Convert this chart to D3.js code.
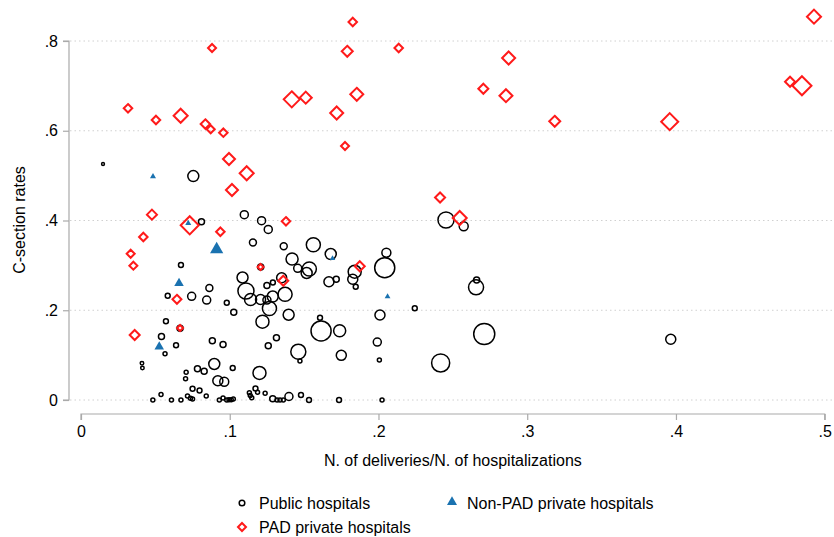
<!DOCTYPE html>
<html>
<head>
<meta charset="utf-8">
<script src="https://cdn.jsdelivr.net/npm/d3@7"></script>
<style>
  body { margin: 0; background: #fff; }
  svg { display: block; font-family: "Liberation Sans", Arial, Helvetica, sans-serif; }
</style>
</head>
<body>
<div class="chart"></div>
<script>
// public hospitals: x = deliveries/hospitalizations, y = c-section rate, w = weight
const publicX = [0.0148,0.0755,0.081,0.1098,0.1214,0.1259,0.1156,0.0672,0.0863,0.0744,0.0583,0.0845,0.098,0.1027,
  0.1086,0.1109,0.114,0.1207,0.125,0.1289,0.1267,0.122,0.1208,0.125,0.129,0.1314,0.1259,0.0571,0.0541,0.0666,
  0.0639,0.0565,0.0883,0.0955,0.041,0.0413,0.0896,0.102,0.0783,0.0828,0.0707,0.0703,0.092,0.0963,0.075,0.0797,
  0.0842,0.0716,0.0736,0.075,0.0538,0.0483,0.0608,0.0672,0.093,0.0955,0.0995,0.101,0.1024,0.1132,0.1138,0.1148,
  0.1173,0.1187,0.1238,0.1289,0.1318,0.12,0.1363,0.1562,0.1679,0.1419,0.1457,0.1535,0.1517,0.2053,0.2042,0.1349,
  0.1372,0.1396,0.184,0.1827,0.1716,0.1667,0.1847,0.201,0.1607,0.1614,0.1739,0.1461,0.175,0.1992,0.2006,0.1472,
  0.1479,0.1398,0.1338,0.136,0.1533,0.1735,0.2024,0.2454,0.2573,0.266,0.2656,0.2244,0.2711,0.2418,0.3965,0.098];
const publicY = [0.526,0.499,0.397,0.413,0.3996,0.38,0.351,0.301,0.2496,0.231,0.2324,0.2228,0.2168,0.1954,
  0.273,0.2429,0.224,0.224,0.2228,0.2306,0.204,0.1745,0.2964,0.255,0.262,0.1388,0.1208,0.1754,0.1415,0.1598,
  0.1221,0.1032,0.1321,0.1237,0.0818,0.0713,0.0802,0.0713,0.0695,0.0642,0.062,0.0475,0.0428,0.0408,0.025,0.021,
  0.0089,0.0089,0.0038,0.0022,0.0123,0,0,0,0,0.0045,0.0007,0.0007,0.0022,0.0163,0.01,0.0051,
  0.0256,0.0172,0.0149,0.0029,0,0.0602,0.3425,0.346,0.3253,0.3142,0.2935,0.2919,0.283,0.3282,0.2948,0.2725,
  0.2355,0.19,0.2859,0.269,0.269,0.2636,0.2525,0.1894,0.1834,0.1538,0.1544,0.1076,0.0996,0.1292,0.0891,0.0869,
  0.0111,0.0078,0,0,0,0,0,0.4011,0.3871,0.2674,0.2511,0.2043,0.1471,0.0825,0.1353,0];
const publicW = [2,30,9,16,16,16,12,6,12,16,6,16,6,9,
  30,64,36,25,16,30,49,42,9,9,6,9,9,6,9,9,
  6,4,9,9,3,3,30,6,9,9,4,4,25,20,6,6,
  4,4,4,4,4,4,4,4,4,4,4,4,4,4,4,4,
  6,4,4,9,4,42,12,49,30,36,16,49,30,20,100,25,
  49,30,42,25,9,25,6,25,6,100,36,56,25,16,4,4,
  6,16,4,4,6,6,4,64,20,9,56,6,110,81,25,4];

// non-PAD private hospitals
const nonPadX = [0.0484,0.0721,0.0912,0.0659,0.0526,0.1691,0.2061];
const nonPadY = [0.498,0.3938,0.3354,0.26,0.1188,0.3153,0.2306];
const nonPadW = [12,12,58,30,30,10,11];

// PAD private hospitals
const padX = [0.0316,0.0504,0.067,0.0881,0.0836,0.0872,0.0957,0.0995,0.1114,0.1015,0.0477,0.0731,0.0419,0.0334,
  0.0352,0.0937,0.1207,0.0645,0.0666,0.0361,0.1378,0.136,0.1874,0.2414,0.2546,0.1827,0.179,0.2136,0.2875,0.1417,
  0.1511,0.1854,0.1719,0.2705,0.2857,0.1775,0.4928,0.4767,0.4847,0.3185,0.3958];
const padY = [0.65,0.624,0.6335,0.7844,0.615,0.6032,0.5957,0.537,0.5052,0.468,0.413,0.3893,0.3632,0.326,
  0.2993,0.375,0.2964,0.2244,0.1604,0.1448,0.3982,0.2658,0.298,0.4513,0.4056,0.8423,0.777,0.7844,0.7621,0.67,
  0.6737,0.6812,0.6396,0.6937,0.6781,0.566,0.8542,0.7093,0.7004,0.621,0.6202];
const padW = [18,18,49,16,22,16,18,36,49,36,25,81,18,16,
  16,18,9,20,9,25,18,25,25,25,49,18,30,18,42,64,
  36,42,42,25,42,16,49,25,90,30,72];

const xTicks = [0, 0.1, 0.2, 0.3, 0.4, 0.5];
const yTicks = [0, 0.2, 0.4, 0.6, 0.8];
const legendItems = ['Public hospitals', 'Non-PAD private hospitals', 'PAD private hospitals'];

const width = 834;
const height = 537;
const fs = '16px';
const fmt = d => d === 0 ? '0' : d3.format('.1f')(d).replace(/^0/, '');

const x = d3.scaleLinear().domain([0, 0.5]).range([81, 824.7]);
const y = d3.scaleLinear().domain([0, 0.8]).range([400, 41]);
const r = d3.scaleSqrt().domain([0, 120]).range([0, 11]);

const RED = '#ff1a1a';
const BLUE = '#1a72b0';

const svg = d3.select('.chart').append('svg')
  .attr('width', width)
  .attr('height', height);

// gridlines
svg.append('g').selectAll('line')
  .data(yTicks)
  .enter().append('line')
  .attr('x1', 70).attr('x2', 832)
  .attr('y1', d => y(d)).attr('y2', d => y(d))
  .attr('stroke', '#d0d0d0')
  .attr('stroke-width', 1)
  .attr('stroke-dasharray', '1.5,3');

// y axis
const yAxis = svg.append('g')
  .attr('transform', 'translate(69,0)')
  .call(d3.axisLeft(y).tickValues(yTicks).tickFormat(fmt).tickSize(6).tickPadding(5));
// x axis
const xAxis = svg.append('g')
  .attr('transform', 'translate(0,414)')
  .call(d3.axisBottom(x).tickValues(xTicks).tickFormat(fmt).tickSize(6).tickPadding(6));

[yAxis, xAxis].forEach(a => {
  a.select('.domain').attr('stroke', '#aaaaaa').attr('stroke-width', 1.2);
  a.selectAll('.tick line').attr('stroke', '#aaaaaa').attr('stroke-width', 1.2);
  a.selectAll('.tick text').attr('fill', '#000').style('font-size', fs)
    .style('font-family', '"Liberation Sans", Arial, sans-serif');
});
yAxis.select('.domain').attr('d', 'M-6,' + y(0) + 'H0V' + y(0.8) + 'H-6');
xAxis.select('.domain').attr('d', 'M' + x(0) + ',6V0H' + x(0.5) + 'V6');

// axis titles
svg.append('text')
  .attr('transform', 'translate(25,220) rotate(-90)')
  .attr('text-anchor', 'middle')
  .style('font-size', fs)
  .text('C-section rates');

svg.append('text')
  .attr('x', (x(0) + x(0.5)) / 2)
  .attr('y', 466)
  .attr('text-anchor', 'middle')
  .style('font-size', fs)
  .text('N. of deliveries/N. of hospitalizations');

const tri = s => {
  // equilateral triangle with circumradius s
  const h = s * 1.5, half = s * Math.sqrt(3) / 2;
  return 'M0,' + (-s) + 'L' + half + ',' + (h - s) + 'L' + (-half) + ',' + (h - s) + 'Z';
};
const diamond = s => 'M0,' + (-s) + 'L' + s + ',0L0,' + s + 'L' + (-s) + ',0Z';

// public hospitals
svg.append('g').selectAll('circle')
  .data(publicX.map((d, i) => ({x: d, y: publicY[i], w: publicW[i]})))
  .enter().append('circle')
  .attr('cx', d => x(d.x))
  .attr('cy', d => y(d.y))
  .attr('r', d => r(d.w))
  .attr('fill', 'none')
  .attr('stroke', '#000')
  .attr('stroke-width', 1.5);

// non-PAD private
svg.append('g').selectAll('path')
  .data(nonPadX.map((d, i) => ({x: d, y: nonPadY[i], w: nonPadW[i]})))
  .enter().append('path')
  .attr('transform', d => 'translate(' + x(d.x) + ',' + y(d.y) + ')')
  .attr('d', d => tri(r(d.w)))
  .attr('fill', BLUE);

// PAD private
svg.append('g').selectAll('path')
  .data(padX.map((d, i) => ({x: d, y: padY[i], w: padW[i]})))
  .enter().append('path')
  .attr('transform', d => 'translate(' + x(d.x) + ',' + y(d.y) + ')')
  .attr('d', d => diamond(r(d.w)))
  .attr('fill', 'none')
  .attr('stroke', RED)
  .attr('stroke-width', 2);

// legend
const legend = svg.append('g').style('font-size', fs);
const legPos = [[242, 503], [452, 503], [242, 527]];
legend.append('circle')
  .attr('cx', legPos[0][0]).attr('cy', legPos[0][1]).attr('r', 2.8)
  .attr('fill', 'none').attr('stroke', '#000').attr('stroke-width', 1.5);
legend.append('path')
  .attr('transform', 'translate(' + legPos[1][0] + ',' + (legPos[1][1] - 1) + ')')
  .attr('d', tri(5.8)).attr('fill', BLUE);
legend.append('path')
  .attr('transform', 'translate(' + legPos[2][0] + ',' + legPos[2][1] + ')')
  .attr('d', diamond(4)).attr('fill', 'none').attr('stroke', RED).attr('stroke-width', 2);
legend.selectAll('text')
  .data(legendItems)
  .enter().append('text')
  .attr('x', (d, i) => legPos[i][0] + (i === 1 ? 15 : 17))
  .attr('y', (d, i) => legPos[i][1] + 5.5)
  .text(d => d);
</script>
</body>
</html>
